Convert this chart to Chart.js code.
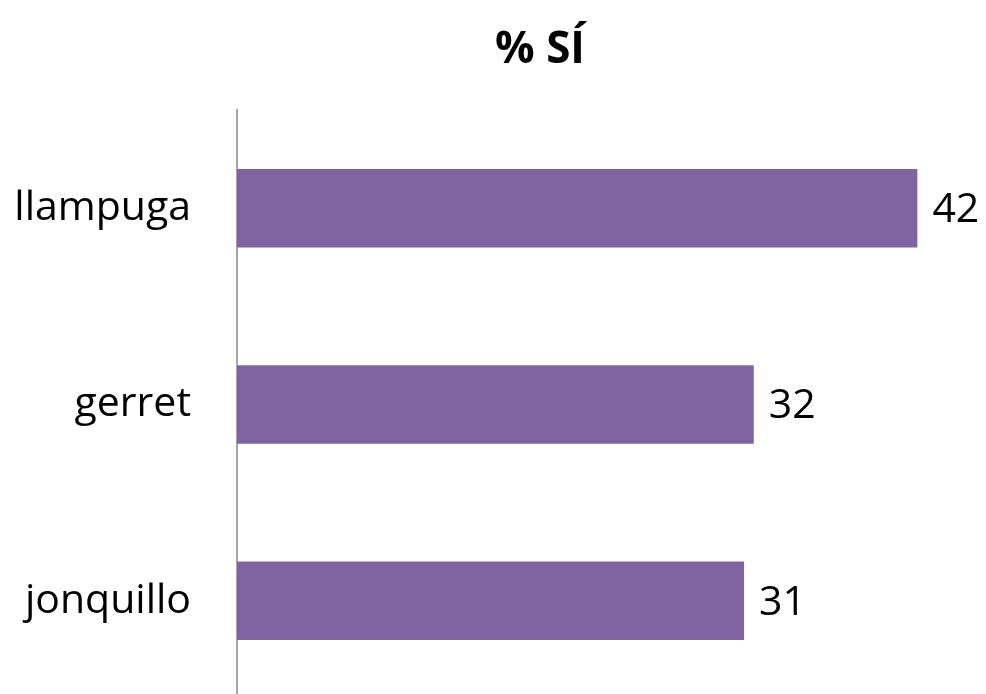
<!DOCTYPE html>
<html lang="es">
<head>
  <meta charset="UTF-8">
  <title>% SÍ</title>
  <script src="https://cdn.jsdelivr.net/npm/chart.js"></script>
  <style>
    html, body { margin: 0; padding: 0; background: white; overflow: hidden; }
    canvas { display: block; }
  </style>
</head>
<body>
<canvas id="chart" width="986" height="700"></canvas>

<script>
const chartTitle = '% SÍ';
const categories = ['llampuga', 'gerret', 'jonquillo'];
const values = [42, 31.9, 31.3];
const barColor = '#8064A2';
const fontFamily = "'Open Sans', 'Liberation Sans', sans-serif";

// title centred over the plot like the original, not over the whole canvas
const titlePlugin = {
  id: 'titleText',
  afterDraw(chart) {
    const ctx = chart.ctx;
    ctx.save();
    ctx.font = `bold 44px ${fontFamily}`;
    ctx.fillStyle = '#000';
    ctx.textAlign = 'center';
    ctx.textBaseline = 'alphabetic';
    ctx.fillText(chartTitle, 540, 63);
    ctx.restore();
  }
};

const valueLabels = {
  id: 'valueLabels',
  afterDatasetsDraw(chart) {
    const ctx = chart.ctx;
    const meta = chart.getDatasetMeta(0);
    ctx.save();
    ctx.font = `41px ${fontFamily}`;
    ctx.fillStyle = '#000';
    ctx.textAlign = 'left';
    ctx.textBaseline = 'middle';
    meta.data.forEach((bar, i) => {
      ctx.fillText(String(Math.round(values[i])), bar.x + 15, bar.y + 2);
    });
    ctx.restore();
  }
};

new Chart(document.getElementById('chart'), {
  type: 'bar',
  data: {
    labels: categories,
    datasets: [{ data: values, backgroundColor: barColor, borderWidth: 0, barPercentage: 0.4, categoryPercentage: 1 }]
  },
  options: {
    indexAxis: 'y',
    responsive: false,
    animation: false,
    devicePixelRatio: 1,
    layout: { padding: { top: 110, right: 20, bottom: 1, left: 0 } },
    plugins: { legend: { display: false }, tooltip: { enabled: false }, title: { display: false } },
    scales: {
      x: { display: false, min: 0, max: 45 },
      y: {
        grid: { display: false },
        border: { display: true, color: '#a6a6a6', width: 2 },
        ticks: { color: '#000', padding: 38, font: { family: fontFamily, size: 41 } },
        afterFit(scale) {
          scale.width = 237;
          // bars sit in offset bands, so the labels need no extra room above/below
          scale.paddingTop = 0;
          scale.paddingBottom = 0;
        }
      }
    }
  },
  plugins: [titlePlugin, valueLabels]
});
</script>
</body>
</html>
